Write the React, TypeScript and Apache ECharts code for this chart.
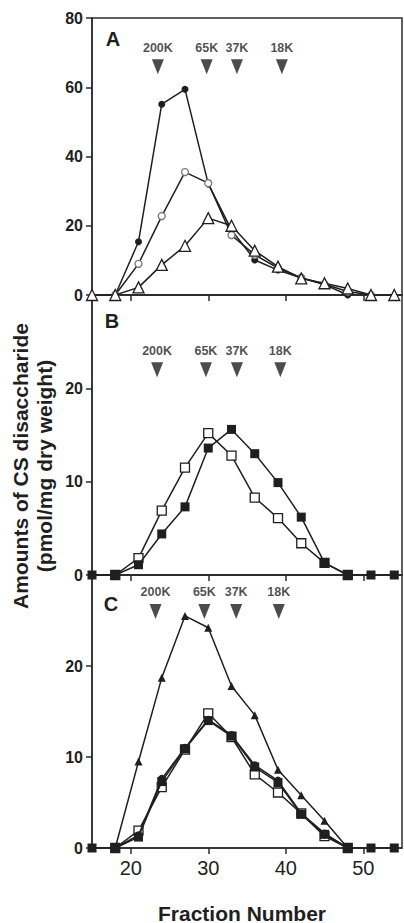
import React, { useEffect, useRef } from "react";
import * as echarts from "echarts";

// Fraction numbers (x values)
const fractions = [15, 18, 21, 24, 27, 30, 33, 36, 39, 42, 45, 48, 51, 54];

// Panel A
const aFilledCircle = [null, 0, 15.4, 55.1, 59.4, 32.1, 18.8, 10.1, 7.2, 4.9, 3.0, 0, null, null];
const aOpenCircle = [null, 0, 9.0, 22.8, 35.5, 32.3, 17.3, 11.6, 7.8, 5.0, 3.1, 1.0, 0, null];
const aOpenTriangle = [0, 0, 2.2, 8.7, 14.2, 22.2, 20.0, 12.8, 8.2, 4.8, 3.4, 1.9, 0, 0];

// Panel B
const bOpenSquare = [null, 0, 1.8, 6.9, 11.5, 15.2, 12.8, 8.3, 6.1, 3.4, 1.3, 0, null, null];
const bFilledSquare = [0, 0, 1.1, 4.4, 7.3, 13.6, 15.6, 13.0, 9.9, 6.2, 1.3, 0, 0, 0];

// Panel C
const cFilledTriangle = [null, 0, 9.5, 18.7, 25.5, 24.2, 17.8, 14.6, 8.6, 5.8, 3.0, 0, null, null];
const cFilledSquare = [0, 0, 1.2, 7.3, 10.9, 14.0, 12.3, 8.9, 7.2, 3.7, 1.5, 0, 0, 0];
const cFilledCircle = [null, 0, 1.4, 7.6, 11.0, 14.1, 12.4, 9.1, 7.4, 3.8, 1.6, 0, null, null];
const cOpenSquare = [null, 0, 1.9, 6.7, 10.8, 14.8, 12.2, 8.1, 6.1, 3.8, 1.3, 0, null, null];

// Molecular weight markers
const mwLabels = ["200K", "65K", "37K", "18K"];
const mwA = [23.5, 29.8, 33.7, 39.5];
const mwB = [23.4, 29.7, 33.7, 39.3];
const mwC = [23.2, 29.5, 33.6, 39.1];
const mwLevelA = 65.9;
const mwLevelB = 22.0;
const mwLevelC = 26.0;

// Axis ticks
const xTicks = [20, 30, 40, 50];
const aYTicks = [0, 20, 40, 60, 80];
const bYTicks = [0, 10, 20];
const cYTicks = [0, 10, 20];

const INK = "#1f1f1f";
const FONT = "'Liberation Sans', Arial, Helvetica, sans-serif";

function pts(vals: (number | null)[]) {
  const out: number[][] = [];
  vals.forEach((v, i) => {
    if (v !== null) out.push([fractions[i], v]);
  });
  return out;
}

function lineSeries(
  idx: number,
  vals: (number | null)[],
  symbol: string,
  size: number,
  filled: boolean,
  z = 2,
  border = INK
) {
  return {
    type: "line",
    xAxisIndex: idx,
    yAxisIndex: idx,
    data: pts(vals),
    symbol,
    symbolSize: size,
    showSymbol: true,
    z,
    lineStyle: { color: INK, width: 1.5 },
    itemStyle: filled
      ? { color: INK, borderColor: INK, borderWidth: 0 }
      : { color: "#ffffff", borderColor: border, borderWidth: 1.3 },
    emphasis: { disabled: true },
  };
}

function mwSeries(idx: number, xs: number[], level: number) {
  return {
    type: "scatter",
    xAxisIndex: idx,
    yAxisIndex: idx,
    symbol: "path://M0,0L12,0L6,15Z",
    symbolSize: [12, 15],
    itemStyle: { color: INK },
    z: 6,
    label: {
      show: true,
      position: "top",
      distance: 5,
      formatter: (p: any) => p.name,
      fontSize: 12.5,
      fontWeight: "bold",
      color: INK,
      fontFamily: FONT,
    },
    data: xs.map((x, i) => ({ name: mwLabels[i], value: [x, level] })),
  };
}

const gridTops = [
  { top: 18, height: 277 },
  { top: 295, height: 280 },
  { top: 575, height: 273 },
];

export default function App() {
  const ref = useRef<HTMLDivElement>(null);
  useEffect(() => {
    if (!ref.current) return;
    const chart = echarts.init(ref.current, null, { renderer: "svg" });
    const yMax = [80, 30, 30];
    const yTicks = [aYTicks, bYTicks, cYTicks];
    chart.setOption({
      animation: false,
      backgroundColor: "#ffffff",
      textStyle: { fontFamily: FONT },
      grid: gridTops.map((g) => ({
        left: 92,
        right: 2,
        top: g.top,
        height: g.height,
        show: true,
        borderColor: "#2b2b2b",
        borderWidth: 1.5,
        backgroundColor: "transparent",
      })),
      xAxis: [0, 1, 2].map((i) => ({
        type: "value",
        gridIndex: i,
        min: 15,
        max: 55,
        axisLine: { show: true, lineStyle: { color: "#2b2b2b", width: 1.5 } },
        axisTick: {
          show: true,
          customValues: xTicks,
          inside: false,
          length: 6,
          lineStyle: { color: "#2b2b2b", width: 1.5 },
        },
        axisLabel: {
          show: i === 2,
          customValues: xTicks,
          fontSize: 20,
          color: INK,
          margin: 10,
          fontFamily: FONT,
        },
        splitLine: { show: false },
      })),
      yAxis: [0, 1, 2].map((i) => ({
        type: "value",
        gridIndex: i,
        min: 0,
        max: yMax[i],
        axisLine: { show: true, lineStyle: { color: "#2b2b2b", width: 1.5 } },
        axisTick: {
          show: true,
          customValues: yTicks[i],
          inside: false,
          length: 6,
          lineStyle: { color: "#2b2b2b", width: 1.5 },
        },
        axisLabel: {
          show: true,
          customValues: yTicks[i],
          fontSize: 16,
          fontWeight: "bold",
          color: INK,
          margin: 9,
          fontFamily: FONT,
        },
        splitLine: { show: false },
      })),
      series: [
        lineSeries(0, aFilledCircle, "circle", 7, true, 3),
        lineSeries(0, aOpenCircle, "circle", 7, false, 3, "#777777"),
        lineSeries(0, aOpenTriangle, "triangle", 11, false, 4),
        lineSeries(1, bOpenSquare, "rect", 9, false, 3),
        lineSeries(1, bFilledSquare, "rect", 9, true, 4),
        lineSeries(2, cFilledTriangle, "triangle", 8, true, 3),
        lineSeries(2, cOpenSquare, "rect", 9, false, 3),
        lineSeries(2, cFilledSquare, "rect", 9, true, 4),
        lineSeries(2, cFilledCircle, "circle", 8, true, 5),
        mwSeries(0, mwA, mwLevelA),
        mwSeries(1, mwB, mwLevelB),
        mwSeries(2, mwC, mwLevelC),
      ],
      graphic: [
        {
          type: "text",
          x: 113,
          y: 39,
          style: { text: "A", fontSize: 20, fontWeight: "bold", fill: INK, align: "center", verticalAlign: "middle", fontFamily: FONT },
        },
        {
          type: "text",
          x: 112,
          y: 321,
          style: { text: "B", fontSize: 20, fontWeight: "bold", fill: INK, align: "center", verticalAlign: "middle", fontFamily: FONT },
        },
        {
          type: "text",
          x: 111,
          y: 604,
          style: { text: "C", fontSize: 20, fontWeight: "bold", fill: INK, align: "center", verticalAlign: "middle", fontFamily: FONT },
        },
        {
          type: "text",
          x: 32,
          y: 466,
          rotation: Math.PI / 2,
          style: {
            text: "Amounts of CS disaccharide\n(pmol/mg dry weight)",
            fontSize: 21,
            fontWeight: "bold",
            lineHeight: 24,
            fill: INK,
            align: "center",
            verticalAlign: "middle",
            fontFamily: FONT,
          },
        },
        {
          type: "text",
          x: 242,
          y: 913,
          style: {
            text: "Fraction Number",
            fontSize: 21,
            fontWeight: "bold",
            fill: INK,
            align: "center",
            verticalAlign: "middle",
            fontFamily: FONT,
          },
        },
      ],
    });
    return () => chart.dispose();
  }, []);
  return (
    <div
      ref={ref}
      style={{ position: "absolute", left: 0, top: 0, width: 404, height: 923 }}
    />
  );
}
